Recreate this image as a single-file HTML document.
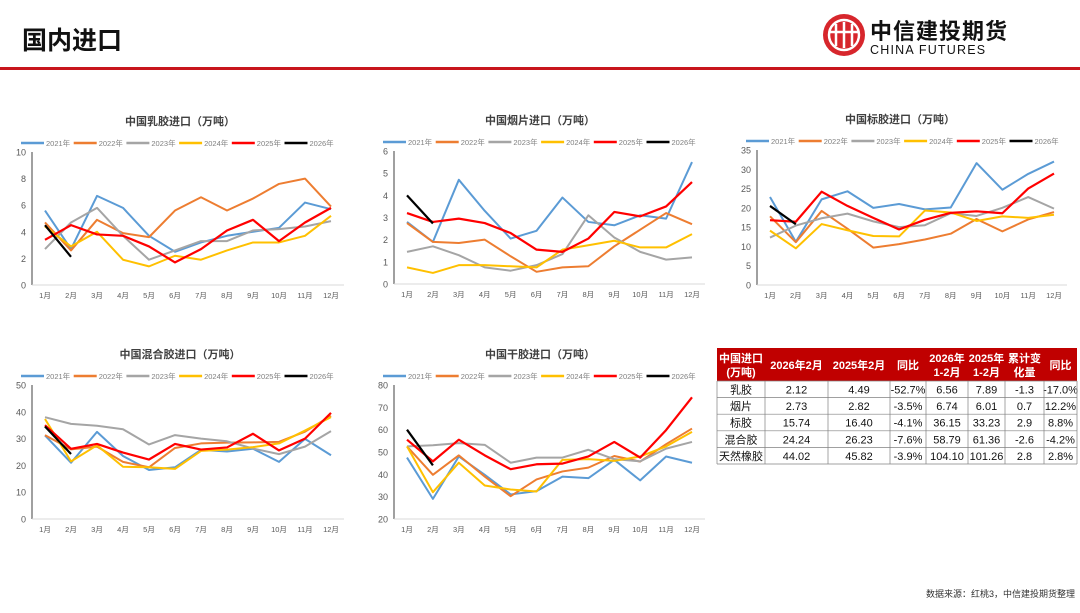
<!DOCTYPE html>
<html><head><meta charset="utf-8">
<style>
body{margin:0;width:1080px;height:608px;background:#fff;overflow:hidden;font-family:"Liberation Sans","Noto Sans CJK SC",sans-serif;}
svg text{font-family:"Liberation Sans","Noto Sans CJK SC",sans-serif;}
</style></head>
<body>
<svg id="s" width="1080" height="608" xmlns="http://www.w3.org/2000/svg">
<text x="22" y="49" font-size="25" font-weight="bold" fill="#111">国内进口</text>
<rect x="0" y="67" width="1080" height="3" fill="#c8161d"/>
<g>
<circle cx="844" cy="35" r="21" fill="#d7262c"/>
<circle cx="844" cy="35" r="15" fill="none" stroke="#fff" stroke-width="2.5"/>
<path d="M836 24v22M844 22v26M852 24v22M830 32h28" stroke="#fff" stroke-width="2.5" fill="none"/>
<text x="870" y="39" font-size="22" font-weight="bold" fill="#111" letter-spacing="1">中信建投期货</text>
<text x="870" y="54" font-size="12.5" fill="#111" letter-spacing="1.2">CHINA FUTURES</text>
</g>
<text x="1075" y="597" font-size="9" fill="#333" text-anchor="end">数据来源：红桃3，中信建投期货整理</text>
<g id="tbl"></g>
</svg>
<script>
const months=["1月","2月","3月","4月","5月","6月","7月","8月","9月","10月","11月","12月"];
const years=["2021年","2022年","2023年","2024年","2025年","2026年"];
const colors=["#5b9bd5","#ed7d31","#a5a5a5","#ffc000","#ff0000","#000000"];
const latex2021=[5.6,2.7,6.7,5.8,3.7,2.5,3.2,3.7,4.0,4.3,6.2,5.7];
const latex2022=[4.7,2.6,4.9,3.9,3.6,5.6,6.6,5.6,6.5,7.6,8.0,5.9];
const latex2023=[2.7,4.7,5.8,3.7,1.9,2.6,3.3,3.3,4.1,4.2,4.4,4.8];
const latex2024=[4.4,2.9,4.0,1.9,1.4,2.2,1.9,2.6,3.2,3.2,3.7,5.2];
const latex2025=[3.4,4.5,3.8,3.7,2.9,1.7,2.7,4.1,4.9,3.3,4.7,5.8];
const latex2026=[4.5,2.12];
const rss2021=[2.8,1.9,4.7,3.3,2.05,2.4,3.9,2.8,2.65,3.1,2.95,5.5];
const rss2022=[2.75,1.9,1.85,2.0,1.25,0.55,0.75,0.8,1.7,2.45,3.2,2.7];
const rss2023=[1.45,1.7,1.3,0.75,0.6,0.85,1.35,3.1,2.1,1.45,1.1,1.2];
const rss2024=[0.75,0.5,0.85,0.85,0.8,0.75,1.55,1.75,1.95,1.65,1.65,2.25];
const rss2025=[3.2,2.8,2.95,2.75,2.3,1.55,1.45,2.05,3.25,3.05,3.5,4.6];
const rss2026=[4.0,2.73];
const tsr2021=[22.8,11.2,22.2,24.3,20.0,21.0,19.6,20.1,31.6,24.7,28.8,32.0];
const tsr2022=[17.8,11.1,19.2,14.6,9.7,10.6,11.8,13.3,17.1,13.9,17.0,18.9];
const tsr2023=[12.3,15.4,17.3,18.5,16.5,15.0,15.5,18.6,17.9,20.0,22.8,19.8];
const tsr2024=[14.1,9.5,15.8,14.2,12.7,12.6,19.3,18.8,16.6,17.8,17.4,18.2];
const tsr2025=[16.8,16.4,24.2,20.5,17.4,14.4,16.9,18.7,19.1,18.6,25.0,28.9];
const tsr2026=[20.5,15.74];
const mix2021=[31.2,21.0,32.5,23.5,18.3,19.3,25.8,25.2,26.2,21.3,29.9,23.8];
const mix2022=[31.3,26.0,27.0,21.3,19.3,26.5,28.2,28.5,28.6,28.8,32.6,38.5];
const mix2023=[38.0,35.5,34.8,33.5,27.8,31.3,30.0,29.0,26.3,24.2,27.0,32.8];
const mix2024=[37.3,21.5,27.5,19.5,19.3,18.7,25.4,25.9,26.8,28.2,33.0,38.0];
const mix2025=[35.0,26.2,28.0,24.8,22.2,28.0,25.9,26.7,31.8,25.6,30.0,39.6];
const mix2026=[34.5,24.24];
const dry2021=[47.5,29.0,48.0,39.8,31.0,32.5,39.0,38.3,46.5,37.3,48.0,45.2];
const dry2022=[52.5,39.8,48.5,39.0,30.2,37.7,41.3,43.0,48.2,45.7,53.5,60.5];
const dry2023=[52.5,53.0,54.0,53.2,45.2,47.5,47.5,51.0,46.8,45.8,51.5,54.5];
const dry2024=[52.5,32.0,45.2,35.0,33.2,32.3,46.5,46.8,46.0,48.0,52.5,59.0];
const dry2025=[55.5,45.8,55.5,48.5,42.3,44.5,44.8,48.0,54.5,47.5,59.8,74.5];
const dry2026=[60.0,44.02];
const tableHeader=["中国进口|(万吨)","2026年2月","2025年2月","同比","2026年|1-2月","2025年|1-2月","累计变|化量","同比"];
const tableRows=[["乳胶","2.12","4.49","-52.7%","6.56","7.89","-1.3","-17.0%"],
["烟片","2.73","2.82","-3.5%","6.74","6.01","0.7","12.2%"],
["标胶","15.74","16.40","-4.1%","36.15","33.23","2.9","8.8%"],
["混合胶","24.24","26.23","-7.6%","58.79","61.36","-2.6","-4.2%"],
["天然橡胶","44.02","45.82","-3.9%","104.10","101.26","2.8","2.8%"]];
const NS="http://www.w3.org/2000/svg";
const svg=document.getElementById('s');
function el(tag,attrs,parent){const e=document.createElementNS(NS,tag);for(const k in attrs)e.setAttribute(k,attrs[k]);(parent||svg).appendChild(e);return e;}
function chart(name,title,series,ax,x1,x12,yTop,yBot,min,max,step,cx){
  const g=el('g',{});
  
  
  const X=i=>x1+(x12-x1)*i/11;
  const Y=v=>yBot-(v-min)/(max-min)*(yBot-yTop);
  const t=el('text',{x:cx,y:yTop-27,'font-size':11,'font-weight':'bold',fill:'#404040','text-anchor':'middle'},g);
  t.textContent=title;
  
  
  // legend
  const lx0=ax-11;
  years.forEach((y,i)=>{
    const lg=el('g',{},g);
    
    
    const lx=lx0+i*52.7, ly=yTop-9;
    el('line',{x1:lx,y1:ly,x2:lx+23,y2:ly,stroke:colors[i],'stroke-width':2.5},lg);
    const tt=el('text',{x:lx+25,y:ly+3,'font-size':7.5,fill:'#808080'},lg);tt.textContent=y;
  });
  el('line',{x1:ax,y1:yTop,x2:ax,y2:yBot,stroke:'#404040','stroke-width':1},g);
  el('line',{x1:ax,y1:yBot,x2:x12+13,y2:yBot,stroke:'#d9d9d9','stroke-width':1},g);
  for(let v=min;v<=max+1e-9;v+=step){
    const tk=el('text',{x:ax-6,y:Y(v)+3.5,'font-size':9,fill:'#595959','text-anchor':'end'},g);tk.textContent=v;
    
    
  }
  months.forEach((m,i)=>{
    const tk=el('text',{x:X(i),y:yBot+13,'font-size':7.5,fill:'#595959','text-anchor':'middle'},g);tk.textContent=m;
    
    
  });
  series.forEach((d,i)=>{
    const p=el('polyline',{points:d.map((v,j)=>X(j)+','+Y(v)).join(' '),fill:'none',stroke:colors[i],'stroke-width':i>=4?2.2:2,'stroke-linejoin':'round'},g);
    
    
  });
}
chart('latex-import-chart','中国乳胶进口（万吨）',[latex2021,latex2022,latex2023,latex2024,latex2025,latex2026],32,45,331,152,285,0,10,2,180);
chart('rss-import-chart','中国烟片进口（万吨）',[rss2021,rss2022,rss2023,rss2024,rss2025,rss2026],394,407,692,151,284,0,6,1,540);
chart('tsr-import-chart','中国标胶进口（万吨）',[tsr2021,tsr2022,tsr2023,tsr2024,tsr2025,tsr2026],757,770,1054,150,285,0,35,5,900);
chart('mixed-rubber-import-chart','中国混合胶进口（万吨）',[mix2021,mix2022,mix2023,mix2024,mix2025,mix2026],32,45,331,385,519,0,50,10,180);
chart('dry-rubber-import-chart','中国干胶进口（万吨）',[dry2021,dry2022,dry2023,dry2024,dry2025,dry2026],394,407,692,385,519,20,80,10,540);
// table
const tg=document.getElementById('tbl');
const cols=[717,765,828,890,926,968,1005,1044,1077];
const hTop=348,hBot=381,rowH=16.6;
el('rect',{x:cols[0],y:hTop,width:cols[8]-cols[0],height:hBot-hTop,fill:'#c00000'},tg);
tableHeader.forEach((h,i)=>{
  const cx=(cols[i]+cols[i+1])/2;const parts=h.split('|');
  parts.forEach((p,k)=>{
    const t=el('text',{x:cx,y:parts.length>1?hTop+14+k*14:hTop+21,'font-size':11,'font-weight':'bold',fill:'#fff','text-anchor':'middle'},tg);
    t.textContent=p;
  });
});
tableRows.forEach((r,ri)=>{
  const y=hBot+ri*rowH;
  const rg=el('g',{},tg);
  
  
  el('line',{x1:cols[0],y1:y+rowH,x2:cols[8],y2:y+rowH,stroke:'#808080','stroke-width':0.7},rg);
  r.forEach((c,i)=>{
    const t=el('text',{x:(cols[i]+cols[i+1])/2,y:y+12.5,'font-size':11,fill:'#111','text-anchor':'middle'},rg);t.textContent=c;
  });
});
for(let i=0;i<9;i++){el('line',{x1:cols[i],y1:hBot,x2:cols[i],y2:hBot+rowH*5,stroke:'#808080','stroke-width':0.7},tg);}
el('line',{x1:cols[0],y1:hBot,x2:cols[8],y2:hBot,stroke:'#808080','stroke-width':0.7},tg);
</script>
</body></html>
